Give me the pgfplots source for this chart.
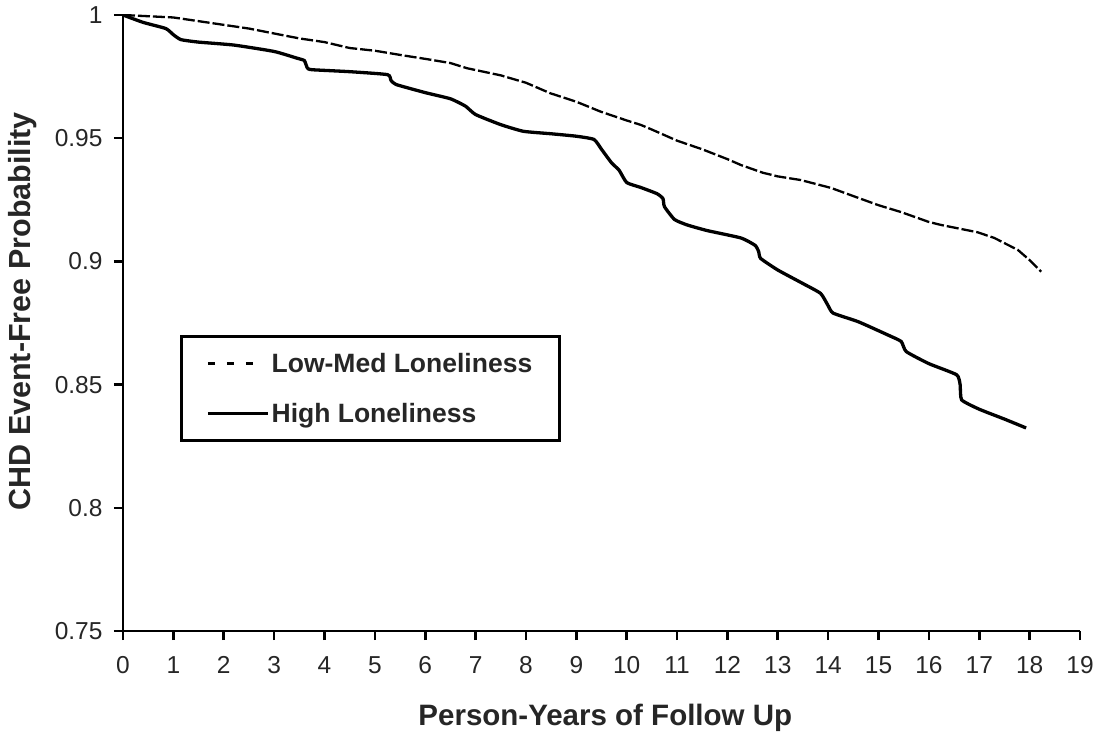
\documentclass[border=0pt]{standalone}
\usepackage{fontspec}
\setmainfont{Liberation Sans}
\usepackage{pgfplots}
\pgfplotsset{compat=1.18}

\begin{document}
\begin{tikzpicture}
% fixed canvas around the axis box
\path[use as bounding box] (-123pt,-100pt) rectangle (979pt,631pt);
\begin{axis}[
  at={(0pt,0pt)}, anchor=south west,
  scale only axis, width=957pt, height=616pt,
  xmin=0, xmax=19, ymin=0.75, ymax=1,
  axis x line=bottom, axis y line=left,
  axis line style={-, line width=2.8pt, black},
  xtick={0,1,...,19},
  ytick={0.75,0.8,0.85,0.9,0.95,1},
  yticklabels={0.75,0.8,0.85,0.9,0.95,1},
  tick align=outside, major tick length=9pt,
  tick style={line width=2.6pt, black},
  ticklabel style={font=\fontsize{24.5}{24.5}\selectfont, text=black!85},
  xticklabel style={yshift=-13pt},
  yticklabel style={xshift=-8pt},
  /pgf/number format/assume math mode=true,
  xlabel={Person-Years of Follow Up},
  ylabel={CHD Event-Free Probability},
  xlabel style={font=\bfseries\fontsize{29.5}{29.5}\selectfont, text=black!85,
    at={(axis description cs:0.504,-0.141)}, anchor=center},
  ylabel style={font=\bfseries\fontsize{30.5}{30.5}\selectfont, text=black!85,
    at={(axis description cs:-0.105,0.519)}, anchor=center},
  legend cell align=left,
  legend style={at={(axis description cs:0.0596,0.4805)}, anchor=north west,
    draw=black, line width=2.6pt, font=\bfseries\fontsize{26.5}{26.5}\selectfont,
    text=black!85, inner xsep=25pt, inner ysep=15pt, row sep=25pt},
]
% Low-Med Loneliness
\addplot[black, line width=2.3pt, dash pattern=on 12pt off 3pt,
  legend image code/.code={\draw[black, line width=3pt, dash pattern=on 7pt off 12pt] (0pt,0pt) -- (50pt,0pt);}]
  coordinates {
  (0,1.0) (0.5,0.9995) (1,0.999) (1.5,0.9975) (2,0.996) (2.5,0.9945)
  (3,0.9925) (3.5,0.9905) (4,0.989) (4.5,0.9866) (5,0.9855) (5.5,0.9838)
  (6,0.9822) (6.5,0.9805) (6.83,0.9784) (7.5,0.9755) (8,0.9725) (8.49,0.9682)
  (9,0.9648) (9.48,0.9608) (10,0.9572) (10.28,0.9554) (10.5,0.9535) (11,0.9490)
  (11.5,0.9455) (12,0.9415) (12.27,0.9391) (12.7,0.9360) (13,0.9345) (13.46,0.9330)
  (14.06,0.9298) (14.5,0.9265) (15,0.9228) (15.45,0.9200) (16,0.9160) (16.24,0.9148)
  (16.97,0.9118) (17.3,0.9095) (17.77,0.9046) (18.0,0.9005) (18.23,0.8958)
  };
\addlegendentry{Low-Med Loneliness}
% High Loneliness
\addplot[black, line width=3.3pt, smooth, tension=0.3,
  legend image code/.code={\draw[black, line width=3.3pt] (0pt,0pt) -- (60pt,0pt);}]
  coordinates {
  (0,1.0) (0.4,0.997) (0.85,0.9945) (1.0,0.992) (1.15,0.9900) (1.5,0.9890)
  (2.2,0.9878) (3.0,0.9852) (3.45,0.9825) (3.6,0.9815) (3.66,0.9785) (3.75,0.9778)
  (4.5,0.9770) (5.25,0.9758) (5.32,0.9735) (5.42,0.9718) (6.0,0.9685) (6.5,0.9660)
  (6.8,0.9630) (7.0,0.9596) (7.5,0.9555) (7.95,0.9528) (8.5,0.9518) (9.0,0.9508)
  (9.35,0.9495) (9.5,0.9455) (9.7,0.9400) (9.85,0.9370) (10.0,0.9320) (10.28,0.9300)
  (10.6,0.9275) (10.72,0.9255) (10.75,0.9222) (10.95,0.9170) (11.2,0.9148) (11.6,0.9125)
  (12.27,0.9095) (12.55,0.9065) (12.62,0.9040) (12.66,0.9012) (13.0,0.8965) (13.5,0.8910)
  (13.85,0.8870) (14.0,0.8820) (14.1,0.8790) (14.6,0.8755) (15.2,0.8700) (15.45,0.8675)
  (15.55,0.8634) (16.0,0.8585) (16.55,0.8540) (16.62,0.8500) (16.65,0.8438) (17.0,0.8400)
  (17.5,0.8360) (17.93,0.8324)
  };
\addlegendentry{High Loneliness}
\end{axis}
\end{tikzpicture}
\end{document}
